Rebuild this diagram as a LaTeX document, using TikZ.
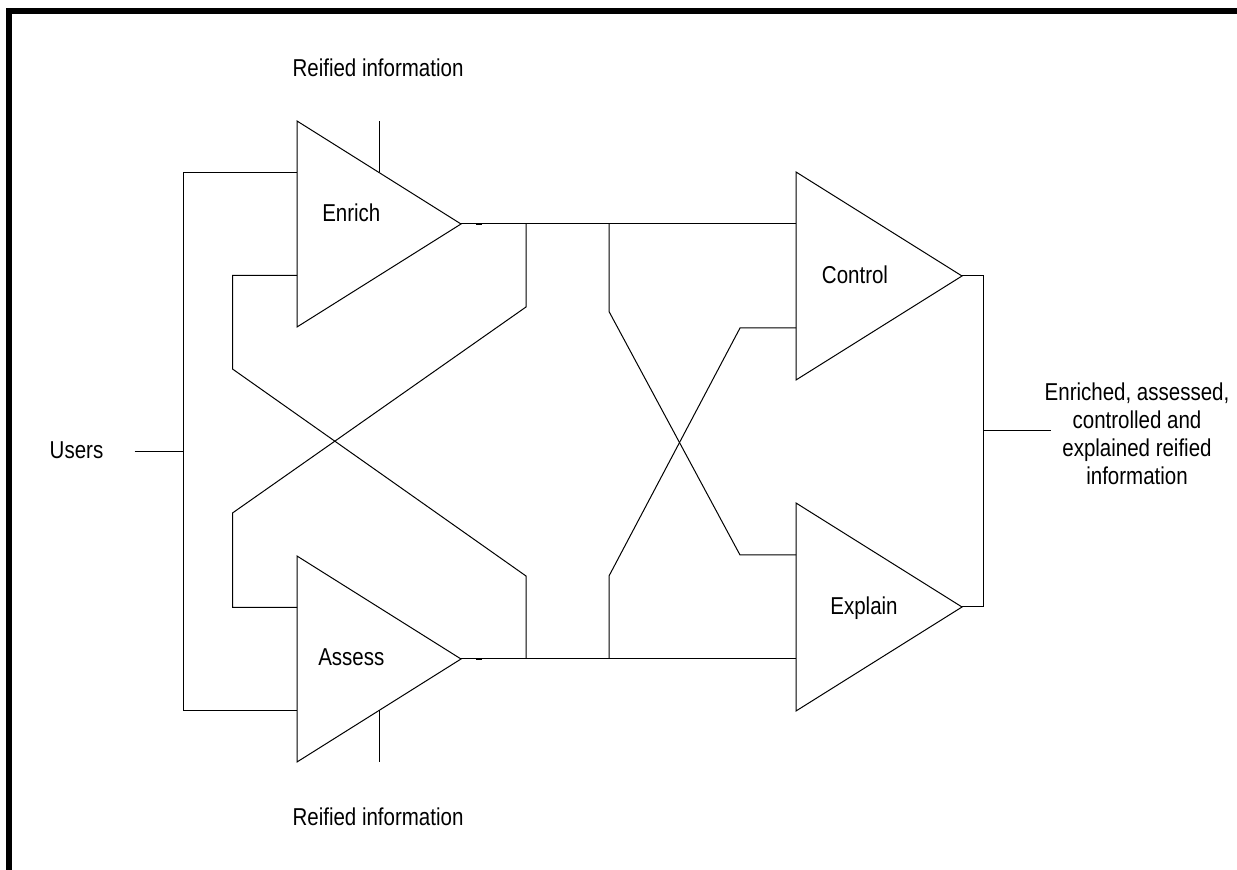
\documentclass[tikz,border=0pt]{standalone}
\usepackage{fontspec}
\setmainfont{Liberation Sans}[FakeStretch=0.84]
\begin{document}
\begin{tikzpicture}[x=0.5pt,y=-0.5pt,line width=0.5pt,inner sep=0pt,outer sep=0pt,
amp/.style={draw,line join=miter},
lbl/.style={font=\fontsize{12.2}{14}\selectfont,anchor=base},
stub/.style={line width=1.2pt}]

\useasboundingbox (0,0) rectangle (1237,870);
% frame
\draw[line width=3pt,line join=miter] (9,870) -- (9,11) -- (1237,11);

% amplifier blocks
\draw[amp] (297,121) -- (461,224) coordinate (enrich-out) -- (297,327) -- cycle;
\draw[amp] (297,556) -- (461,659) coordinate (assess-out) -- (297,762) -- cycle;
\draw[amp] (796,172) -- (962,276) coordinate (control-out) -- (796,380) -- cycle;
\draw[amp] (796,503) -- (962,607) coordinate (explain-out) -- (796,711) -- cycle;

% ports
\coordinate (enrich-in1) at (297,172.5);
\coordinate (enrich-in2) at (297,275.5);
\coordinate (assess-in1) at (297,607.5);
\coordinate (assess-in2) at (297,710.5);
\coordinate (control-in1) at (796,224);
\coordinate (control-in2) at (796,328);
\coordinate (explain-in1) at (796,555);
\coordinate (explain-in2) at (796,659);
\coordinate (enrich-top) at (379,172.5);
\coordinate (assess-bot) at (379,710.5);
\coordinate (users-end) at (134.5,452);
\coordinate (users-bus) at (183.5,452);
\coordinate (out-bus) at (983,431);
\coordinate (out-end) at (1051,431);

% labels
\draw (378,77) node[lbl] (reified-top) {Reified information};
\draw (378,826) node[lbl] (reified-bot) {Reified information};
\draw (76.5,459) node[lbl] (users) {Users};
\draw (351.3,222) node[lbl] (enrich) {Enrich};
\draw (351.3,666) node[lbl] (assess) {Assess};
\draw (855,284) node[lbl] (control) {Control};
\draw (864,615) node[lbl] (explain) {Explain};
\draw (1137,383) node[lbl,anchor=north,align=center] (result)
  {Enriched, assessed,\\controlled and\\explained reified\\information};

% reified information inputs
\draw (enrich-top) -- ++(0,-51.5);
\draw (assess-bot) -- ++(0,51.5);

% users
\draw (users-end) -- (users-bus);
\draw (enrich-in1) -| (users-bus) |- (assess-in2);

% buses
\draw (enrich-out) -- (control-in1);
\draw (assess-out) -- (explain-in2);
\draw[stub] (enrich-out) ++(15,0) -- ++(6,0);
\draw[stub] (assess-out) ++(15,0) -- ++(6,0);

% left crossing
\draw (enrich-out -| 526,0) -- (526,307) -- (232.5,513) |- (assess-in1);
\draw (assess-out -| 526,0) -- (526,576) -- (232.5,369) |- (enrich-in2);

% right crossing
\draw (control-in1 -| 609,0) -- (609,311.5) -- (740,555) -- (explain-in1);
\draw (explain-in2 -| 609,0) -- (609,576) -- (740,328) -- (control-in2);

% output
\draw (control-out) -| (out-bus) |- (explain-out);
\draw (out-bus) -- (out-end);
\end{tikzpicture}
\end{document}
